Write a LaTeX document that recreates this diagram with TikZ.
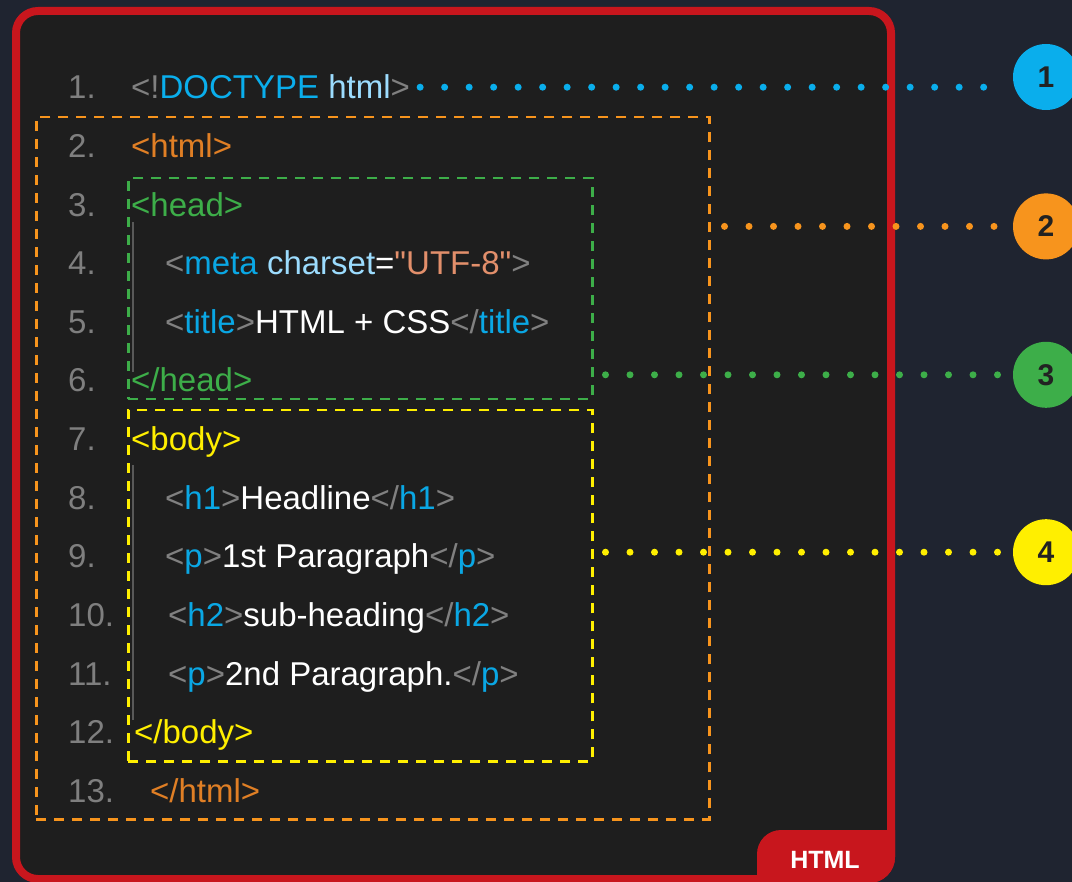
\documentclass[tikz,border=0pt]{standalone}
\usepackage{fontspec}
\setmainfont{Liberation Sans}[Ligatures=TeXOff]
\usetikzlibrary{positioning,calc}

\definecolor{pagebg}{HTML}{1F2430}
\definecolor{codebg}{HTML}{1E1E1E}
\definecolor{framered}{HTML}{C8161D}
\definecolor{docblue}{HTML}{0AAEEC}
\definecolor{htmlorange}{HTML}{F7941D}
\definecolor{headgreen}{HTML}{3DAE49}
\definecolor{bodyyellow}{HTML}{FFEF00}
\definecolor{numgray}{HTML}{7F7F7F}
\definecolor{taggray}{HTML}{808080}
\definecolor{tagblue}{HTML}{0AA7E4}
\definecolor{attrblue}{HTML}{9CDCFE}
\definecolor{strorange}{HTML}{E28F6B}
\definecolor{tagorange}{HTML}{E07F25}
\definecolor{darknum}{HTML}{222222}

\newcommand{\brL}{\textcolor{taggray}{<}}
\newcommand{\brR}{\textcolor{taggray}{>}}
\newcommand{\brS}{\textcolor{taggray}{</}}
\newcommand{\tagb}[1]{\textcolor{tagblue}{#1}}

\begin{document}
\begin{tikzpicture}[x=1pt,y=-1pt]
\tikzstyle{code}=[anchor=base west,inner sep=0pt,text=white,font=\fontsize{33}{38}\selectfont]
\tikzstyle{lnum}=[code,text=numgray]
\tikzstyle{codebox}=[anchor=north west,inner sep=0pt,line width=2.5pt,dash pattern=on 10pt off 8pt]
\tikzstyle{marker}=[circle,minimum size=66pt,inner sep=0pt,text=darknum,font=\bfseries\fontsize{30}{34}\selectfont]
\tikzstyle{dotline}=[line width=7pt,line cap=round,dash pattern=on 0pt off 24.5pt]
\tikzstyle{guide}=[draw=numgray!70!black,line width=1.2pt]

\useasboundingbox (0,0) rectangle (1072,882);
\fill[pagebg] (0,0) rectangle (1072,882);
\clip (0,0) rectangle (1072,882);

% editor window
\draw[framered,line width=8pt,fill=codebg,rounded corners=22pt] (16,11) rectangle (891,879);
\begin{scope}
\clip[rounded corners=26pt] (12,7) rectangle (895,883);
\fill[framered,rounded corners=24pt] (757,830) rectangle (960,940);
\end{scope}
\node[anchor=base,text=white,font=\bfseries\fontsize{25}{30}\selectfont] (tab) at (825,868) {HTML};

% nesting boxes
\node[codebox,draw=htmlorange,minimum width=673pt,minimum height=702pt] (htmlbox) at (35,116) {};
\node[codebox,draw=headgreen,minimum width=464pt,minimum height=221pt] (headbox) at (127,177) {};
\node[codebox,draw=bodyyellow,minimum width=464pt,minimum height=351pt] (bodybox) at (127,409) {};

\draw[guide] (133,222) -- (133,372);
\draw[guide] (133,465) -- (133,720);

% line numbers
\foreach \n in {1,...,13}
  \node[lnum] (n\n) at (68,{99+(\n-1)*58.6}) {\n.};

% code lines
\node[code] (l1) at (131,99) {\textcolor{taggray}{<!}\textcolor{docblue}{DOCTYPE} \textcolor{attrblue}{html}\brR};
\node[code] (l2) at (131,157.6) {\textcolor{tagorange}{<html>}};
\node[code] (l3) at (131,216.2) {\textcolor{headgreen}{<head>}};
\node[code] (l4) at (165,274.8) {\brL\tagb{meta} \textcolor{attrblue}{charset}=\textcolor{strorange}{"UTF-8"}\brR};
\node[code] (l5) at (165,333.4) {\brL\tagb{title}\brR HTML + CSS\brS\tagb{title}\brR};
\node[code] (l6) at (131,392) {\textcolor{headgreen}{</head>}};
\node[code] (l7) at (131,450.6) {\textcolor{bodyyellow}{<body>}};
\node[code] (l8) at (165,509.2) {\brL\tagb{h1}\brR Headline\brS\tagb{h1}\brR};
\node[code] (l9) at (165,567.8) {\brL\tagb{p}\brR 1st Paragraph\brS\tagb{p}\brR};
\node[code] (l10) at (168,626.4) {\brL\tagb{h2}\brR sub-heading\brS\tagb{h2}\brR};
\node[code] (l11) at (168,685) {\brL\tagb{p}\brR 2nd Paragraph.\brS\tagb{p}\brR};
\node[code] (l12) at (134,743.6) {\textcolor{bodyyellow}{</body>}};
\node[code] (l13) at (150,802.2) {\textcolor{tagorange}{</html>}};

% markers
\node[marker,fill=docblue] (c1) at (1046,77) {1};
\node[marker,fill=htmlorange] (c2) [below=83pt of c1] {2};
\node[marker,fill=headgreen] (c3) [below=82pt of c2] {3};
\node[marker,fill=bodyyellow] (c4) [below=111pt of c3] {4};

\draw[dotline,docblue,shorten <=10pt,shorten >=8pt] (l1.east) -- (l1.east -| c1.west);
\draw[dotline,htmlorange,shorten <=14pt,shorten >=10pt] (htmlbox.east |- c2.west) -- (c2.west);
\draw[dotline,headgreen,shorten <=12pt,shorten >=10pt] (headbox.east |- c3.west) -- (c3.west);
\draw[dotline,bodyyellow,shorten <=12pt,shorten >=10pt] (bodybox.east |- c4.west) -- (c4.west);
\end{tikzpicture}
\end{document}
